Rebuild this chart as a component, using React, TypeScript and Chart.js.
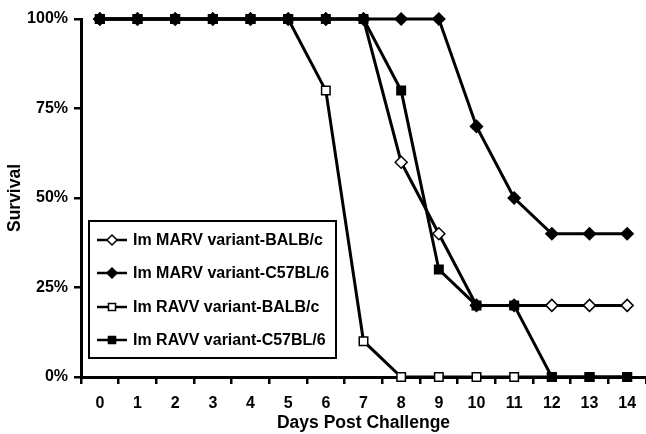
import React, { useEffect, useRef } from "react";
import { Chart, registerables } from "chart.js";

Chart.register(...registerables);

const days = ["0", "1", "2", "3", "4", "5", "6", "7", "8", "9", "10", "11", "12", "13", "14"];
const marvBalb = [100, 100, 100, 100, 100, 100, 100, 100, 60, 40, 20, 20, 20, 20, 20];
const marvC57 = [100, 100, 100, 100, 100, 100, 100, 100, 100, 100, 70, 50, 40, 40, 40];
const ravvBalb = [100, 100, 100, 100, 100, 100, 80, 10, 0, 0, 0, 0, 0, 0, 0];
const ravvC57 = [100, 100, 100, 100, 100, 100, 100, 100, 80, 30, 20, 20, 0, 0, 0];
const seriesNames = [
  "Im MARV variant-BALB/c",
  "Im MARV variant-C57BL/6",
  "Im RAVV variant-BALB/c",
  "Im RAVV variant-C57BL/6",
];
const yTicks = [0, 25, 50, 75, 100];

const FONT = "Arial, 'Liberation Sans', Helvetica, sans-serif";

const styles = [
  { shape: "rectRot", fill: "#ffffff" },
  { shape: "rectRot", fill: "#000000" },
  { shape: "rect", fill: "#ffffff" },
  { shape: "rect", fill: "#000000" },
];

function drawMarker(ctx: CanvasRenderingContext2D, shape: string, fill: string, x: number, y: number, r: number) {
  ctx.save();
  ctx.beginPath();
  if (shape === "rect") {
    const s = r * Math.SQRT1_2;
    ctx.rect(x - s, y - s, 2 * s, 2 * s);
  } else {
    ctx.moveTo(x, y - r);
    ctx.lineTo(x + r, y);
    ctx.lineTo(x, y + r);
    ctx.lineTo(x - r, y);
    ctx.closePath();
  }
  ctx.fillStyle = fill;
  ctx.fill();
  ctx.lineWidth = 1.5;
  ctx.strokeStyle = "#000";
  ctx.stroke();
  ctx.restore();
}

const legendPlugin = {
  id: "insideLegend",
  afterDraw(chart: any) {
    const ctx: CanvasRenderingContext2D = chart.ctx;
    ctx.save();
    const bx = 89, by = 221, bw = 247, bh = 137;
    ctx.fillStyle = "#fff";
    ctx.fillRect(bx, by, bw, bh);
    ctx.lineWidth = 2;
    ctx.strokeStyle = "#000";
    ctx.strokeRect(bx, by, bw, bh);
    const ys = [240, 273, 307, 340];
    ctx.font = `bold 16px ${FONT}`;
    ctx.textBaseline = "middle";
    ctx.textAlign = "left";
    seriesNames.forEach((name, i) => {
      const y = ys[i];
      ctx.beginPath();
      ctx.moveTo(97, y);
      ctx.lineTo(127, y);
      ctx.lineWidth = 2.5;
      ctx.strokeStyle = "#000";
      ctx.stroke();
      drawMarker(ctx, styles[i].shape, styles[i].fill, 112, y, 5);
      ctx.fillStyle = "#000";
      ctx.fillText(name, 133, y + 1);
    });
    ctx.restore();
  },
};

export default function App() {
  const ref = useRef<HTMLCanvasElement>(null);
  useEffect(() => {
    document.body.style.margin = "0";
    const series = [marvBalb, marvC57, ravvBalb, ravvC57];
    const chart = new Chart(ref.current!, {
      type: "line",
      data: {
        labels: days,
        datasets: series.map((d, i) => ({
          label: seriesNames[i],
          data: d,
          order: 3 - i,
          borderColor: "#000",
          borderWidth: 3,
          tension: 0,
          pointStyle: styles[i].shape as any,
          pointRadius: 6,
          pointHoverRadius: 6,
          pointBackgroundColor: styles[i].fill,
          pointBorderColor: "#000",
          pointBorderWidth: 1.5,
          clip: false as any,
        })),
      },
      options: {
        animation: false,
        responsive: false,
        events: [],
        layout: { autoPadding: false, padding: { top: 19, right: 0, left: 0, bottom: 0 } },
        plugins: { legend: { display: false }, tooltip: { enabled: false } },
        scales: {
          x: {
            type: "category",
            offset: true,
            grid: {
              offset: true,
              drawOnChartArea: false,
              tickLength: 7,
              color: "#000",
              lineWidth: 2.5,
            },
            border: { color: "#000", width: 3 },
            ticks: { color: "#000", font: { family: FONT, size: 16, weight: "bold" }, padding: 10, maxRotation: 0, autoSkip: false },
            title: { display: true, text: "Days Post Challenge", color: "#000", font: { family: FONT, size: 17.5, weight: "bold" }, padding: { top: 0, bottom: 0 } },
            afterFit: (s: any) => { s.height = 57; s.paddingLeft = 0; s.paddingRight = 0; },
          },
          y: {
            min: 0,
            max: 100,
            afterBuildTicks: (s: any) => { s.ticks = yTicks.map((v) => ({ value: v })); },
            grid: { drawOnChartArea: false, tickLength: 7, color: "#000", lineWidth: 2.5 },
            border: { color: "#000", width: 3 },
            ticks: { color: "#000", font: { family: FONT, size: 16, weight: "bold" }, padding: 6, callback: (v: any) => `${v}%` },
            title: { display: true, text: "Survival", color: "#000", font: { family: FONT, size: 17.5, weight: "bold" }, padding: { top: 5, bottom: 0 } },
            afterFit: (s: any) => { s.width = 81; },
          },
        },
      },
      plugins: [legendPlugin],
    });
    return () => chart.destroy();
  }, []);
  return <canvas ref={ref} width={646} height={434} style={{ display: "block" }} />;
}
